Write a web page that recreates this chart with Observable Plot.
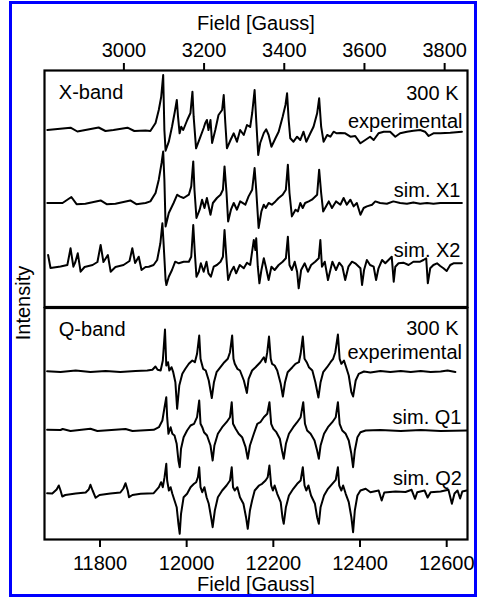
<!DOCTYPE html>
<html><head><meta charset="utf-8">
<script src="https://cdn.jsdelivr.net/npm/d3@7"></script>
<script src="https://cdn.jsdelivr.net/npm/@observablehq/plot@0.6"></script>
<style>
html,body{margin:0;padding:0;background:#fff;}
#wrap{position:relative;width:478px;height:597px;overflow:hidden;font-family:"Liberation Sans",Arial,sans-serif;color:#000;}
#border{position:absolute;left:9px;top:1px;width:462px;height:590px;border:3.5px solid #0000ff;box-sizing:content-box;pointer-events:none;}
.pl{position:absolute;left:0;}
#ylab{position:absolute;left:23px;top:303px;transform:translate(-50%,-50%) rotate(-90deg);font-size:20px;line-height:20px;white-space:nowrap;}
</style>
</head><body>
<div id="wrap">
  <div id="top" class="pl" style="top:0"></div>
  <div id="bot" class="pl" style="top:300px"></div>
  <div id="ylab">Intensity</div>
  <div id="border"></div>
</div>
<script>
// ---------------- DATA ----------------
const topTicks = [3000, 3200, 3400, 3600, 3800];
const botTicks = [11800, 12000, 12200, 12400, 12600];
const axisTitle = "Field [Gauss]";
const xbandNames = ["experimental", "sim. X1", "sim. X2"];
const qbandNames = ["experimental", "sim. Q1", "sim. Q2"];
const xbandOffsets = [177, 104, 41];
const qbandOffsets = [168, 109, 46];

// [field (G), intensity (arb.)]
const xExp = [[2809,0],[2867,2.3],[2884,-1.5],[2904,0],[2937,2.5],[2954,-1],[2974,0],[3009,2.3],[3026,-1],[3054,-0.5],[3066,-1],[3079,7],[3087,20],[3093,33],[3098,55],[3101,0],[3104,-20.7],[3112,-11.7],[3120,3.3],[3127,18.3],[3132,30],[3135,13.3],[3139,-3.3],[3143,3.3],[3148,0],[3158,10],[3166,17],[3171,38.3],[3174,13.3],[3180,-18.3],[3191,-6.7],[3199,2],[3203,7],[3207,10],[3211,0],[3216,10],[3220,-13],[3228,0],[3236,15],[3245,20],[3249,35],[3253,6.7],[3257,-18.3],[3266,-10],[3274,-3.3],[3282,-11.7],[3290,0],[3299,-5],[3307,5],[3315,3],[3320,17],[3326,40],[3330,10],[3335,-25],[3340,-13],[3349,-3],[3355,0.7],[3361,-5],[3368,-16.7],[3378,-8.3],[3386,-1.7],[3396,13.3],[3403,25],[3407,36.7],[3411,10],[3415,-8.3],[3423,-11.7],[3432,-6.7],[3440,-10],[3448,-1.7],[3455,-11.7],[3465,-3.3],[3473,3.3],[3482,16.7],[3487,31.7],[3492,3.3],[3498,-11.7],[3507,-5],[3515,-6.7],[3523,-1.7],[3531,-3.3],[3540,-3],[3552,-3.3],[3565,-6.7],[3577,-6],[3590,-13.3],[3602,-10],[3614,-6.7],[3623,-10],[3635,-3.3],[3648,-1.7],[3664,-1.7],[3677,-6.7],[3689,-3.3],[3706,-1.7],[3722,-0.7],[3739,0],[3751,-1.7],[3760,-6],[3772,-3.3],[3789,-3.3],[3814,-2.7],[3843,-1.7]];

const xSim1 = [[2809,0],[2847,0],[2869,6],[2882,-1.2],[2904,-0.7],[2942,2.6],[2957,-1.2],[2979,-0.7],[3016,2.6],[3031,-1.2],[3054,0],[3066,1.6],[3079,10],[3087,23.3],[3094,40],[3098,51.6],[3101,23.3],[3104,-23.4],[3112,-10],[3124,0],[3133,8.3],[3139,6.6],[3149,5],[3162,8.3],[3168,16.6],[3173,41.6],[3176,13.3],[3181,-15],[3189,-6.7],[3195,3.3],[3201,-5],[3207,5],[3216,-11.7],[3222,0],[3232,5],[3241,8.3],[3247,13.3],[3251,36.6],[3256,10],[3260,-18.4],[3267,-6.7],[3274,0],[3282,-6.7],[3290,1.6],[3303,-1.7],[3311,6.6],[3320,13.3],[3326,35],[3330,13.3],[3336,-25],[3343,-8.4],[3349,-1.7],[3354,-5],[3361,0],[3369,-1.7],[3378,1.6],[3386,5],[3396,8.3],[3404,13.3],[3409,38.3],[3413,10],[3419,-13.4],[3428,-6.7],[3434,-8.4],[3440,0],[3446,-5],[3452,0],[3461,1.6],[3469,3.3],[3482,8.3],[3487,33.3],[3492,10],[3497,-8.4],[3504,-3.4],[3511,1.6],[3519,-5],[3529,1.6],[3540,-1.7],[3548,5],[3556,-1.7],[3565,3.3],[3573,-3.4],[3581,0],[3590,-11.7],[3598,-5],[3606,-3.4],[3619,-1.7],[3627,1.6],[3639,0],[3656,-0.7],[3672,1.6],[3689,0],[3706,-0.7],[3722,0.6],[3739,-0.7],[3756,0],[3772,-0.7],[3789,0],[3814,0],[3843,0]];

const xSim2 = [[2811,11],[2817,-2],[2842,-0.5],[2859,1],[2867,17.7],[2874,-0.7],[2879,4],[2885,12.7],[2892,-5.7],[2902,-1],[2922,1],[2934,4],[2942,21],[2949,4],[2960,11],[2967,-5.7],[2979,-1],[2999,1],[3014,5],[3021,17.7],[3028,3],[3037,9.3],[3044,-4],[3054,-1],[3062,-0.7],[3074,1],[3083,6],[3091,22.7],[3096,42.7],[3099,22.7],[3104,-14],[3106,-19],[3112,-10.7],[3120,-4],[3128,4.3],[3137,2.7],[3149,4.3],[3162,4.3],[3168,9.3],[3173,41],[3177,12.7],[3181,-10.7],[3187,-5.7],[3192,2.7],[3199,-5.7],[3206,4.3],[3211,-7.3],[3217,-10.7],[3224,-0.7],[3232,1],[3241,4.3],[3247,9.3],[3251,36],[3256,6],[3260,-14],[3267,-5.7],[3274,-0.7],[3280,-7.3],[3289,1],[3299,-2.3],[3307,3.3],[3315,1],[3324,26],[3328,16],[3330,27.7],[3334,-0.7],[3338,-17.3],[3343,-4],[3349,7.7],[3354,-0.7],[3361,-14],[3368,-0.7],[3376,-4],[3386,1],[3396,4.3],[3404,7.7],[3409,29.3],[3413,1],[3419,-4],[3426,4.3],[3432,-5.7],[3436,-22.3],[3442,-4],[3451,2.7],[3459,-5.7],[3467,1],[3477,4.3],[3486,7.7],[3490,26],[3494,-0.7],[3501,4.3],[3509,-14],[3515,-4],[3520,4.3],[3529,-4],[3537,3.3],[3545,-0.7],[3552,-14],[3560,-0.7],[3569,4.3],[3577,2.7],[3590,-2.3],[3594,-19],[3599,-4],[3606,6],[3614,1],[3623,-0.7],[3629,-14],[3635,-2.3],[3644,6],[3652,2.7],[3660,6],[3668,9.3],[3673,-15.7],[3677,-0.7],[3685,2.7],[3697,3.3],[3710,1],[3722,4.3],[3739,4.3],[3747,6],[3754,7.7],[3758,-17.3],[3764,-2.3],[3772,1],[3781,2.7],[3789,0],[3797,-2.3],[3805,-5],[3814,1],[3822,2.7],[3843,2.7]];

const qExp = [[11678,0.3],[11709,-0.5],[11744,1],[11778,-0.5],[11813,0.5],[11847,-0.5],[11882,0.5],[11909,1],[11921,1.7],[11928,5],[11933,1.7],[11940,1],[11945,11],[11950,42],[11953,6],[11957,9.3],[11960,1],[11965,4.3],[11969,-0.7],[11974,-10.7],[11978,-37.3],[11983,-14],[11990,-2.3],[11997,2.7],[12005,7.7],[12013,11],[12019,9.3],[12024,17.7],[12029,36],[12032,12.7],[12034,9.3],[12038,2.7],[12044,1],[12051,-9],[12058,-26.5],[12063,-10.7],[12069,-0.7],[12078,4.3],[12087,9.3],[12095,12.7],[12100,19.3],[12105,36],[12108,12.7],[12111,7.7],[12117,2.7],[12123,1],[12132,-9],[12139,-21.5],[12143,-7.3],[12151,1],[12159,4.3],[12170,9.3],[12178,14.3],[12182,9.3],[12186,19.3],[12190,35],[12194,12.7],[12197,7.7],[12203,6],[12209,1],[12217,-12.3],[12222,-25],[12227,-10.7],[12233,-0.7],[12244,4.3],[12251,7.7],[12259,9.3],[12263,17.7],[12268,35],[12272,12.7],[12277,9.3],[12282,4.3],[12290,1],[12297,-10.7],[12304,-26],[12309,-10.7],[12315,-0.7],[12324,4.3],[12332,9.3],[12338,12.7],[12343,19.3],[12349,37],[12353,12.7],[12357,7.7],[12363,11],[12368,4.3],[12374,-4],[12380,-20.7],[12384,-25],[12390,-9],[12397,-2.3],[12409,0],[12424,-1],[12447,0.5],[12470,-0.5],[12494,0.5],[12517,-0.5],[12540,0.5],[12563,-0.5],[12586,0],[12602,1],[12620,-0.5]];

const qSim1 = [[11678,0.7],[11709,0.5],[11714,1.5],[11732,-0.5],[11778,1.7],[11794,-0.5],[11859,1.5],[11875,-0.5],[11894,0],[11924,0.7],[11936,3.3],[11944,10],[11949,23.3],[11953,33.3],[11955,13.3],[11958,-3.3],[11963,3.3],[11967,-3.3],[11972,-5],[11977,-13.3],[11981,-30],[11984,-36.7],[11987,-18.3],[11993,-6.7],[12001,0],[12009,5],[12017,6.7],[12024,13.3],[12029,30],[12032,6.7],[12036,3.3],[12040,-1.7],[12047,-5],[12055,-15],[12060,-30],[12064,-15],[12072,-3.3],[12082,3.3],[12092,8.3],[12100,13.3],[12104,28.3],[12107,6.7],[12113,1.7],[12120,-3.3],[12128,-6.7],[12136,-16.7],[12141,-28.3],[12146,-15],[12155,-3.3],[12163,6.7],[12170,8.3],[12178,13.3],[12186,16.7],[12191,28.3],[12195,6.7],[12200,1.7],[12207,-1.7],[12215,-8.3],[12220,-20],[12224,-28.3],[12229,-13.3],[12236,-3.3],[12246,3.3],[12255,8.3],[12263,13.3],[12269,28.3],[12273,6.7],[12278,0],[12286,-3.3],[12295,-10],[12301,-20],[12305,-28.3],[12309,-15],[12317,-3.3],[12326,3.3],[12336,8.3],[12344,13.3],[12349,28.3],[12353,6.7],[12359,0],[12367,-3.3],[12374,-10],[12380,-23.3],[12384,-36.7],[12388,-20],[12394,-6.7],[12401,-1.7],[12413,0],[12447,0.5],[12494,-0.5],[12540,0.5],[12586,-0.5],[12646,0]];

const qSim2 = [[11678,0.3],[11690,0],[11700,4],[11705,8],[11709,3],[11713,-3],[11720,-1.5],[11744,0],[11767,1],[11774,4],[11778,8.7],[11783,3],[11790,-4.3],[11799,-1.5],[11824,0],[11847,1],[11854,5],[11859,10.3],[11864,3],[11867,-3.7],[11875,-1.5],[11894,-0.3],[11924,0.3],[11936,6.3],[11941,11.3],[11945,6.3],[11949,16.3],[11953,29.7],[11955,13],[11959,3],[11963,6.3],[11967,-0.3],[11972,-7],[11977,-13.7],[11981,-30.3],[11984,-40.3],[11987,-20.3],[11993,-3.7],[12001,-0.3],[12009,6.3],[12017,9.7],[12022,11.3],[12026,16.3],[12029,26.3],[12032,6.3],[12036,1.3],[12041,6.3],[12046,-3.7],[12051,-10.3],[12057,-25.3],[12060,-33.7],[12065,-17],[12072,-3.7],[12082,3],[12092,8],[12100,13],[12104,26.3],[12107,6.3],[12111,3],[12117,6.3],[12123,-3.7],[12131,-10.3],[12137,-23.7],[12141,-35.3],[12146,-17],[12151,-7],[12157,3],[12167,8],[12174,9.7],[12182,13],[12187,16.3],[12191,28],[12195,8],[12199,3],[12203,8],[12209,-0.3],[12217,-8.7],[12221,-23.7],[12224,-30.3],[12229,-13.7],[12236,-2],[12246,4.7],[12255,9.7],[12263,13],[12268,26.3],[12272,8],[12276,3],[12281,8],[12287,-2],[12296,-10.3],[12301,-23.7],[12305,-30.3],[12309,-13.7],[12317,-2],[12326,4.7],[12336,9.7],[12344,13.7],[12349,26.3],[12352,8],[12357,3],[12361,8],[12367,-0.3],[12374,-8.7],[12380,-23.7],[12384,-38.7],[12388,-17],[12394,-2],[12401,3],[12413,4.7],[12424,1.3],[12443,3],[12450,-7],[12456,1],[12482,2],[12505,1.5],[12519,3.7],[12527,-5.3],[12532,1.3],[12549,3],[12556,-4],[12563,1.3],[12586,2],[12604,3.7],[12612,-10.3],[12618,0],[12625,3],[12631,-5],[12636,2],[12646,3]];

// ---------------- BUILD ----------------
function rows(traces, offsets, names) {
  return traces.flatMap((t, i) => t.map(([f, v]) => ({field: f, y: offsets[i] + v, trace: names[i]})));
}
const xRows = rows([xExp, xSim1, xSim2], xbandOffsets, xbandNames);
const qRows = rows([qExp, qSim1, qSim2], qbandOffsets, qbandNames);

const FONT = "'Liberation Sans', Arial, Helvetica, sans-serif";
const style = {background: "transparent", fontFamily: FONT, fontSize: "20px", overflow: "visible", color: "#000"};
const lbl = (s, anchor, dx, dy, ta) => Plot.text([s], {text: d => d, frameAnchor: anchor, dx, dy, lineAnchor: "bottom", textAnchor: ta, fontSize: 20, fill: "#000"});

const topPlot = Plot.plot({
  width: 478, height: 310,
  marginTop: 70, marginBottom: 3.5, marginLeft: 44, marginRight: 11,
  style,
  x: {domain: [2802, 3857]},
  y: {domain: [0, 236.5], axis: null},
  marks: [
    Plot.line(xRows, {x: "field", y: "y", z: "trace", stroke: "#000", strokeWidth: 2, strokeLinejoin: "round"}),
    Plot.frame({stroke: "#000", strokeWidth: 2.2}),
    Plot.axisX({anchor: "top", ticks: topTicks, tickSize: 8, tickPadding: 6, strokeWidth: 2, fontSize: 20, label: null, tickFormat: d => String(d)}),
    Plot.text([axisTitle], {text: d => d, frameAnchor: "top", dy: -40.5, lineAnchor: "bottom", fontSize: 20}),
    lbl("X-band", "top-left", 14.3, 28, "start"),
    lbl("300 K", "top-right", -9, 29.3, "end"),
    lbl(xbandNames[0], "top-right", -5, 57, "end"),
    lbl(xbandNames[1], "top-right", -7, 126, "end"),
    lbl(xbandNames[2], "top-right", -7, 186, "end")
  ]
});
document.getElementById("top").appendChild(topPlot);

const botPlot = Plot.plot({
  width: 478, height: 297,
  marginTop: 7.5, marginBottom: 58, marginLeft: 44, marginRight: 11,
  style,
  x: {domain: [11672, 12648]},
  y: {domain: [0, 231.5], axis: null},
  marks: [
    Plot.line(qRows, {x: "field", y: "y", z: "trace", stroke: "#000", strokeWidth: 2, strokeLinejoin: "round"}),
    Plot.frame({stroke: "#000", strokeWidth: 2.2}),
    Plot.axisX({anchor: "bottom", ticks: botTicks, tickSize: 8, tickPadding: 8, strokeWidth: 2, fontSize: 20, label: null, tickFormat: d => String(d)}),
    Plot.text([axisTitle], {text: d => d, frameAnchor: "bottom", dy: 51, lineAnchor: "bottom", fontSize: 20}),
    lbl("Q-band", "top-left", 14.3, 27.5, "start"),
    lbl("300 K", "top-right", -9, 26.8, "end"),
    lbl(qbandNames[0], "top-right", -5.5, 50.8, "end"),
    lbl(qbandNames[1], "top-right", -6, 115.8, "end"),
    lbl(qbandNames[2], "top-right", -5.5, 176.5, "end")
  ]
});
document.getElementById("bot").appendChild(botPlot);
</script>
</body></html>
